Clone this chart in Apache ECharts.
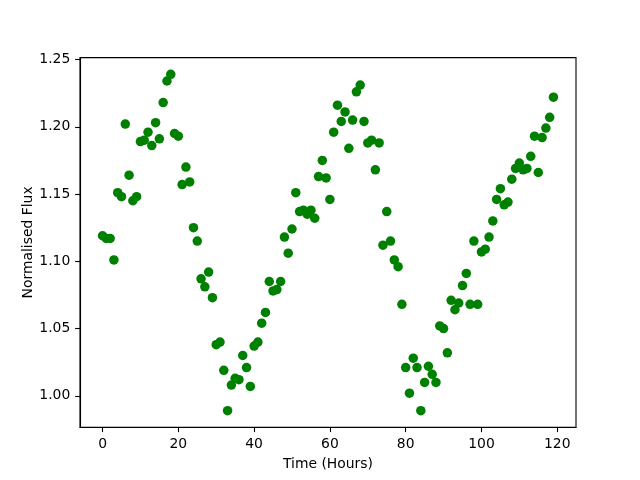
<!DOCTYPE html>
<html>
<head>
<meta charset="utf-8">
<script src="https://cdn.jsdelivr.net/npm/echarts@6/dist/echarts.min.js"></script>
<style>html,body{margin:0;padding:0;background:#fff}#c{width:640px;height:480px}</style>
</head>
<body>
<div id="c"></div>
<script>
var hours = [];
for (var i = 0; i < 120; i++) hours.push(i);
var flux = [
1.119,1.117,1.117,1.101,1.151,1.148,1.202,1.164,1.145,1.148,
1.189,1.190,1.196,1.186,1.203,1.191,1.218,1.234,1.239,1.195,
1.193,1.157,1.170,1.159,1.125,1.115,1.087,1.081,1.092,1.073,
1.038,1.040,1.019,0.989,1.008,1.013,1.012,1.030,1.021,1.007,
1.037,1.040,1.054,1.062,1.085,1.078,1.079,1.085,1.118,1.106,
1.124,1.151,1.137,1.138,1.135,1.138,1.132,1.163,1.175,1.162,
1.146,1.196,1.216,1.204,1.211,1.184,1.205,1.226,1.231,1.204,
1.188,1.190,1.168,1.188,1.112,1.137,1.115,1.101,1.096,1.068,
1.021,1.002,1.028,1.021,0.989,1.010,1.022,1.016,1.010,1.052,
1.050,1.032,1.071,1.064,1.069,1.082,1.091,1.068,1.115,1.068,
1.107,1.109,1.118,1.130,1.146,1.154,1.142,1.144,1.161,1.169,
1.173,1.168,1.169,1.178,1.193,1.166,1.192,1.199,1.207,1.222
];
var xTicks = [0, 20, 40, 60, 80, 100, 120];
var yTicks = [1.00, 1.05, 1.10, 1.15, 1.20, 1.25];

var pts = hours.map(function (h, i) { return [h, flux[i]]; });
var font = 'DejaVu Sans';
var chart = echarts.init(document.getElementById('c'), null, {renderer: 'canvas'});
chart.setOption({
  animation: false,
  backgroundColor: '#fff',
  grid: {left: 80, right: 64, top: 57.6, bottom: 52.8, show: true, borderColor: '#000', borderWidth: 1.1, backgroundColor: 'transparent'},
  xAxis: {
    type: 'value', min: -5.95, max: 124.95,
    name: 'Time (Hours)', nameLocation: 'middle', nameGap: 30,
    nameTextStyle: {fontFamily: font, fontSize: 13.9, color: '#000'},
    axisLine: {show: true, onZero: false, lineStyle: {color: '#000', width: 1.1}},
    axisTick: {show: true, length: 4.9, lineStyle: {color: '#000', width: 1.1}, customValues: xTicks},
    axisLabel: {fontFamily: font, fontSize: 13.9, color: '#000', margin: 9.7, customValues: xTicks, formatter: function (v) { return String(v); }},
    splitLine: {show: false}
  },
  yAxis: {
    type: 'value', min: 0.9767, max: 1.2514,
    name: 'Normalised Flux', nameLocation: 'middle', nameGap: 45, nameMoveOverlap: false,
    nameTextStyle: {fontFamily: font, fontSize: 13.9, color: '#000'},
    axisLine: {show: true, onZero: false, lineStyle: {color: '#000', width: 1.1}},
    axisTick: {show: true, length: 4.9, lineStyle: {color: '#000', width: 1.1}, customValues: yTicks},
    axisLabel: {fontFamily: font, fontSize: 13.9, color: '#000', margin: 9.7, customValues: yTicks, formatter: function (v) { return v.toFixed(2); }},
    splitLine: {show: false}
  },
  series: [{
    type: 'scatter', data: pts, symbol: 'circle', symbolSize: 9.5,
    itemStyle: {color: '#008000', opacity: 1}
  }]
});
</script>
</body>
</html>
